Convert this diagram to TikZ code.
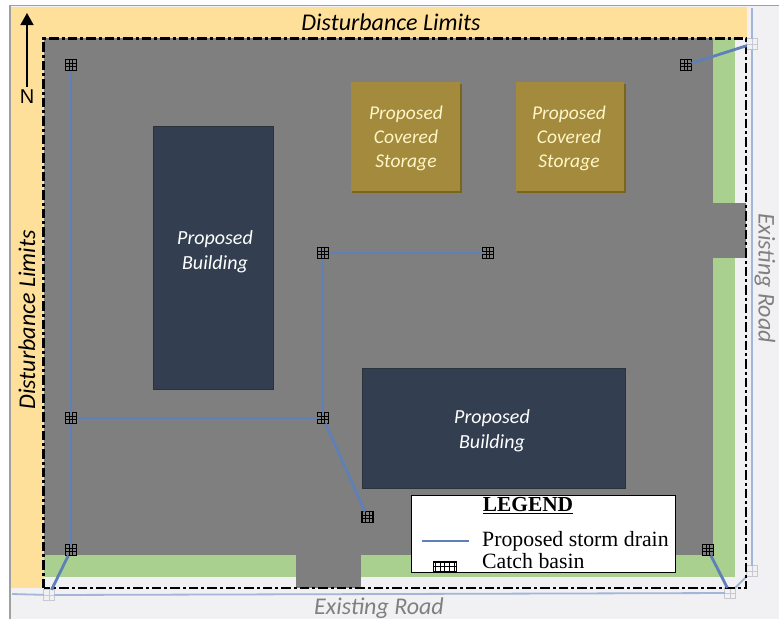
\documentclass[tikz,border=0pt]{standalone}
\usepackage{fontspec}
\setmainfont{Carlito}
\newfontfamily\legendfont{Liberation Serif}
\newfontfamily\northfont{Liberation Sans}
\usetikzlibrary{arrows.meta}
\definecolor{pagebg}{HTML}{F1F1F3}
\definecolor{framegray}{HTML}{A0A0A0}
\definecolor{limityellow}{HTML}{FFE09A}
\definecolor{lotgray}{HTML}{7F7F7F}
\definecolor{lawngreen}{HTML}{A9D08E}
\definecolor{bldgblue}{HTML}{333F50}
\definecolor{bldgshadow}{HTML}{2A323C}
\definecolor{storagegold}{HTML}{A38A3C}
\definecolor{storageshadow}{HTML}{7A6518}
\definecolor{drainblue}{HTML}{5F7FB8}
\definecolor{roadblue}{HTML}{A3B6DA}
\definecolor{fadedgrid}{HTML}{C6C9D0}
\definecolor{roadtext}{HTML}{808080}
\definecolor{storagetext}{HTML}{FFF6C8}
\tikzset{
  x=1pt,y=-1pt,
  bldg/.style={draw=bldgshadow,line width=1.4pt,fill=bldgblue,inner sep=0},
  bldgtext/.style={inner sep=0,text=white,font=\fontsize{20}{25}\selectfont\itshape,align=center},
  store/.style={inner sep=0,text=storagetext,font=\fontsize{19.5}{24}\selectfont\itshape,align=center},
  basin/.style={draw=black,line width=1.4pt,minimum size=11pt,inner sep=0,outer sep=0,
    path picture={\draw[black,line width=.8pt]
      ([xshift=-1.7pt]path picture bounding box.north)--([xshift=-1.7pt]path picture bounding box.south)
      ([xshift=1.7pt]path picture bounding box.north)--([xshift=1.7pt]path picture bounding box.south)
      ([yshift=1.7pt]path picture bounding box.west)--([yshift=1.7pt]path picture bounding box.east)
      ([yshift=-1.7pt]path picture bounding box.west)--([yshift=-1.7pt]path picture bounding box.east);}},
  fadedbasin/.style={draw=fadedgrid,line width=1pt,minimum size=10.5pt,inner sep=0,outer sep=0,
    path picture={\draw[fadedgrid,line width=.7pt]
      (path picture bounding box.north)--(path picture bounding box.south)
      (path picture bounding box.west)--(path picture bounding box.east);}},
  drain/.style={draw=drainblue,line width=2.8pt},
  road/.style={draw=roadblue,line width=1.8pt},
  limits/.style={font=\fontsize{24}{28}\selectfont\itshape,text=black,inner sep=0},
  roadlabel/.style={font=\fontsize{24}{28}\selectfont\itshape,text=roadtext,inner sep=0},
}
\begin{document}
\begin{tikzpicture}
\useasboundingbox (0,0) rectangle (779,619);
\fill[white] (0,0) rectangle (779,619);
\fill[pagebg] (10,6) rectangle (779,619);
\draw[framegray,line width=1.8pt] (10,619)--(10,5.5)--(779,5.5);
% yellow disturbance band
\fill[limityellow] (11,7) rectangle (747,588);
\fill[pagebg] (44,38) rectangle (747,588);
% lot
\fill[lawngreen] (44,555) rectangle (735,577);
\fill[lawngreen] (713,38) rectangle (735,577);
\fill[lotgray] (44,38) rectangle (713,555);
\fill[lotgray] (296,550) rectangle (361,588);
\fill[lotgray] (710,203) rectangle (746,258);
% road lines
\coordinate (roadW) at (12,594);
\coordinate (roadN) at (752,8);
\node[fadedbasin] (bSW) at (49,595) {};
\node[fadedbasin] (bS) at (730,593) {};
\node[fadedbasin] (bE) at (752,571) {};
\node[fadedbasin] (bNE) at (752,44) {};
\draw[road] (roadW)--(bSW) (bSW)--(bS) (bS)--(bE) (bE)--(bNE) (bNE)--(roadN);
% limit line
\draw[black,line width=2.4pt,dash pattern=on 9.5pt off 3pt on 3pt off 3pt] (43.5,588)--(43.5,38.5)--(746,38.5)--(746,588)--cycle;
% buildings
\node[bldg,minimum width=120pt,minimum height=263pt] (bldgA) at (213.5,258) {};
\node[bldgtext] (bldgAtext) at (215,251.5) {Proposed\\Building};
\node[bldg,minimum width=263pt,minimum height=120pt] (bldgB) at (494,428.5) {};
\node[bldgtext] (bldgBtext) at (492,431) {Proposed\\Building};
% storage
\fill[storageshadow] (352,84) rectangle (461.5,192.5);
\fill[storageshadow] (517,84) rectangle (625.5,192.5);
\fill[storagegold] (351,82) rectangle (459.5,190.5);
\fill[storagegold] (516,82) rectangle (623.5,190.5);
\node[store] (storA) at (406,138) {Proposed\\Covered\\Storage};
\node[store] (storB) at (569,138) {Proposed\\Covered\\Storage};
% basins
\node[basin] (b1) at (71,65) {};
\node[basin] (b2) at (686,65) {};
\node[basin] (b3) at (323,253) {};
\node[basin] (b4) at (488,253) {};
\node[basin] (b5) at (71,418) {};
\node[basin] (b6) at (323,418) {};
\node[basin] (b7) at (367.5,517) {};
\node[basin] (b8) at (71,550) {};
\node[basin] (b9) at (708,550) {};
% drains
\draw[drain] (b1)--(b5);
\draw[drain] (b5)--(b8);
\draw[drain] (b5)--(b6);
\draw[drain] (b3)--(b6);
\draw[drain] (b3)--(b4);
\draw[drain] (b6)--(b7);
\draw[drain] (b8)--(bSW);
\draw[drain] (b9)--(bS);
\draw[drain] (b2)--(bNE);
% north arrow (set before the rotated labels)
\node[font=\northfont\fontsize{20}{24}\selectfont,inner sep=0] (northN) at (27,97) {N};
\coordinate (northTip) at (27,13);
\draw[black,line width=1.5pt,-{Triangle[length=12pt,width=13pt]}] (northN.north) ++(0,-3) -- (northTip);
% legend
\node[draw=black,line width=1pt,fill=white,inner sep=0,minimum width=264pt,minimum height=77pt] (legend) at (543,533.5) {};
\node[font=\legendfont\fontsize{21.4}{24}\selectfont\bfseries,inner sep=0] (legT) at (528,506) {\underline{LEGEND}};
\node[font=\legendfont\fontsize{21.8}{24}\selectfont,anchor=base west,inner sep=0] (leg1) at (482,546) {Proposed storm drain};
\node[font=\legendfont\fontsize{21.8}{24}\selectfont,anchor=base west,inner sep=0] (leg2) at (482,568) {Catch basin};
\coordinate (lineA) at (422,541);
\coordinate (lineB) at (469,541);
\draw[drain] (lineA)--(lineB);
\node[inner sep=0,minimum width=23pt,minimum height=11pt,anchor=north west,draw=none,
  path picture={\draw[black,line width=.8pt]
   (path picture bounding box.south west) grid[step=4.6pt] (path picture bounding box.north east);}] (legB) at (433,561) {};
\draw[black,line width=.9pt] (legB.south west)--(legB.north west)--(legB.north east)--(legB.south east);
% labels
\node[limits] (limT) at (391,22) {Disturbance Limits};
\node[roadlabel] (roadS) at (379,608) {Existing Road};
\node[limits,rotate=90] (limL) at (27,320) {Disturbance Limits};
\node[roadlabel,rotate=-90] (roadE) at (765,278) {Existing Road};
\end{tikzpicture}
\end{document}
